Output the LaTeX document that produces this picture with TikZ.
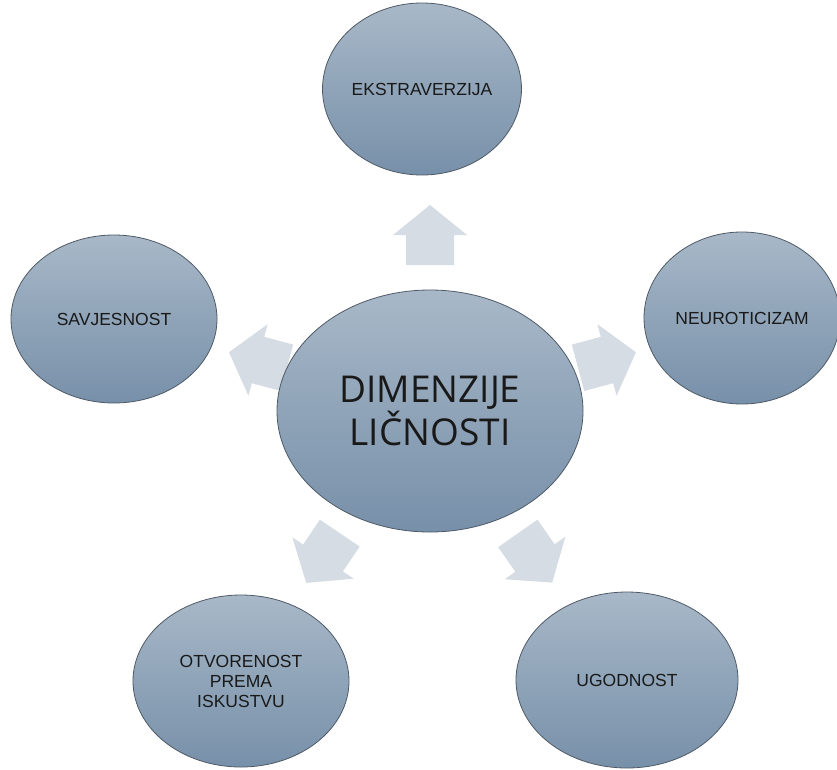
\documentclass[tikz,border=0pt]{standalone}
\usepackage{fontspec}
\setmainfont{Liberation Sans}
\newfontfamily\centerfont{Open Sans}
\usetikzlibrary{shapes.geometric}
\definecolor{topfill}{HTML}{A8B8C8}
\definecolor{botfill}{HTML}{7790A9}
\definecolor{edgecol}{HTML}{4F5A66}
\definecolor{arrowfill}{HTML}{D6DCE3}
\tikzset{
  bubble/.style={ellipse, draw=edgecol, line width=0.8pt, top color=topfill, bottom color=botfill,
    inner sep=0pt, align=center, text=black!90,
    font=\fontsize{17.5}{20}\selectfont},
  centerbubble/.style={bubble, font=\centerfont\fontsize{37}{41}\selectfont},
  blockarrow/.pic={\fill[arrowfill] (-30,-24) -- (0,-24) -- (0,-37) -- (30,0) -- (0,37) -- (0,24) -- (-30,24) -- cycle;}
}
\begin{document}
\begin{tikzpicture}[x=1pt,y=-1pt]
\useasboundingbox (0,0) rectangle (837,769);
\fill[white] (0,0) rectangle (837,769);

% arrows
\pic[rotate=90] at (430,235) {blockarrow};
\pic[rotate=165] at (258,360) {blockarrow};
\pic[rotate=15] at (607,360) {blockarrow};
\pic[rotate=-124] at (323,558) {blockarrow};
\pic[rotate=-55] at (535,558) {blockarrow};

% center
\node[centerbubble, minimum width=306pt, minimum height=242pt] (c) at (430,411) {DIMENZIJE\\LIČNOSTI};

% satellites
\node[bubble, minimum width=198pt, minimum height=172pt] (ext) at (422,89) {EKSTRAVERZIJA};
\node[bubble, minimum width=196pt, minimum height=172pt] (neu) at (742,318) {NEUROTICIZAM};
\node[bubble, minimum width=206pt, minimum height=168pt] (sav) at (114,319) {SAVJESNOST};
\node[bubble, minimum width=216pt, minimum height=172pt] (otv) at (241,681) {OTVORENOST\\PREMA\\ISKUSTVU};
\node[bubble, minimum width=222pt, minimum height=176pt] (ugo) at (627,680) {UGODNOST};
\end{tikzpicture}
\end{document}
